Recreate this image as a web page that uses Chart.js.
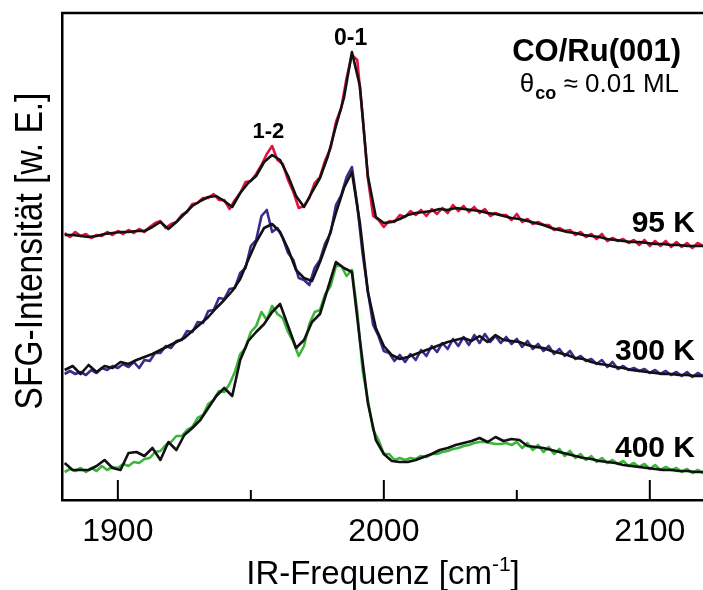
<!DOCTYPE html>
<html><head><meta charset="utf-8">
<script src="https://cdn.jsdelivr.net/npm/chart.js@4"></script>
<style>html,body{margin:0;padding:0;background:#fff;overflow:hidden}</style>
</head><body>
<canvas id="c" width="703" height="590"></canvas>
<script>
// wavenumber grids (cm^-1)
const wnData = [1880,1882,1884,1886,1888,1890,1892,1894,1896,1898,
1900,1902,1904,1906,1908,1910,1912,1914,1916,1918,
1920,1922,1924,1926,1928,1930,1932,1934,1936,1938,
1940,1942,1944,1946,1948,1950,1952,1954,1956,1958,
1960,1962,1964,1966,1968,1970,1972,1974,1976,1978,
1980,1982,1984,1986,1988,1990,1992,1994,1996,1998,
2000,2002,2004,2006,2008,2010,2012,2014,2016,2018,
2020,2022,2024,2026,2028,2030,2032,2034,2036,2038,
2040,2042,2044,2046,2048,2050,2052,2054,2056,2058,
2060,2062,2064,2066,2068,2070,2072,2074,2076,2078,
2080,2082,2084,2086,2088,2090,2092,2094,2096,2098,
2100,2102,2104,2106,2108,2110,2112,2114,2116,2118,2120];
const wnFit = [1880,1883,1886,1889,1892,1895,1898,1901,1904,1907,
1910,1913,1916,1919,1922,1925,1928,1931,1934,1937,
1940,1943,1946,1949,1952,1955,1958,1961,1964,1967,
1970,1973,1976,1979,1982,1985,1988,1991,1994,1997,
2000,2003,2006,2009,2012,2015,2018,2021,2024,2027,
2030,2033,2036,2039,2042,2045,2048,2051,2054,2057,
2060,2063,2066,2069,2072,2075,2078,2081,2084,2087,
2090,2093,2096,2099,2102,2105,2108,2111,2114,2117,2120];

// SFG intensity (arb. units, vertically offset spectra)
const data95 = [265,261,266,262,264,260,263,262,266,263,
267,264,268,265,269,266,271,275,277,270,
274,276,283,286,294,295,300,300,304,298,
298,289,298,305,316,317,324,333,344,352,
338,334,318,306,290,292,300,315,321,338,
350,376,390,420,443,438,383,320,282,278,
271,277,276,283,281,287,283,288,282,289,
284,290,285,293,287,292,286,291,285,289,
282,285,283,283,278,284,276,279,274,276,
273,273,268,270,267,268,263,266,261,264,
259,264,257,260,257,259,255,258,253,258,
252,257,252,257,251,256,251,255,250,255,252];
const fit95 = [263,263,262,261,262,264,265,266,266,267,
267,271,276,269,276,284,292,297,301,302,
297,291,305,315,322,336,343,338,322,302,
291,306,320,342,372,400,446,412,322,281,
275,276,279,283,285,286,287,289,288,290,
289,288,287,285,284,282,280,279,277,275,
273,270,268,266,265,263,262,261,259,258,
257,256,256,255,254,254,253,253,252,252,252];

const data300 = [124,127,124,126,123,128,125,130,128,132,
130,134,131,136,130,138,137,145,145,152,
150,157,158,167,166,176,175,187,188,200,
199,209,210,225,230,252,258,282,288,266,
270,260,245,238,220,218,213,230,238,255,
265,293,303,321,331,293,245,207,173,162,
147,145,137,143,136,144,138,148,142,152,
146,155,149,159,152,161,153,163,155,164,
156,162,155,161,154,159,151,157,149,154,
147,152,144,149,142,147,139,142,137,139,
134,138,131,136,129,132,128,130,127,129,
125,128,124,127,123,126,122,126,121,125,122];
const fit300 = [128,132,124,133,126,132,130,136,134,138,
141,144,148,152,156,160,167,174,181,190,
198,207,219,238,256,270,274,266,249,228,
220,217,236,258,285,310,326,275,206,170,
152,143,139,141,144,147,150,153,156,158,
160,157,162,156,163,158,157,156,153,151,
150,147,145,143,140,139,136,134,133,131,
130,128,127,126,125,124,124,123,123,122,122];

const data400 = [26,29,27,30,26,30,27,32,28,31,
30,34,32,36,35,39,40,46,47,53,
56,62,62,68,71,80,83,94,98,107,
106,114,126,144,150,166,172,186,178,192,
184,180,166,156,142,152,174,186,188,204,
212,232,232,222,228,187,128,98,68,58,
44,44,38,40,38,40,39,42,41,44,
44,46,47,49,50,52,53,55,56,56,
55,54,54,55,53,56,50,55,48,53,
46,51,44,49,42,47,40,44,38,42,
36,40,35,38,34,37,32,35,31,34,
29,33,28,31,28,30,26,29,25,28,25];
const fit400 = [35,28,28,28,32,38,30,28,45,46,
42,50,38,56,48,63,70,78,90,102,
110,102,138,157,166,174,186,194,172,150,
158,176,184,210,236,230,226,158,95,58,
44,37,36,36,38,41,44,48,50,53,
55,57,60,56,61,57,59,58,52,51,
50,48,46,44,42,40,39,37,36,35,
33,32,31,30,29,28,28,27,27,26,26];

const majorTicks = [1900, 2000, 2100];
const minorTicks = [1950, 2050];
const xRange = [1879, 2120];
const yRange = [-2, 485];

const FONT = "'Liberation Sans', Arial, sans-serif";
const RED = '#e5133c', PURPLE = '#3b2b8f', GREEN = '#3cb63a', BLACK = '#111111';

function pts(xs, ys){ return xs.map((x,i)=>({x:x, y:ys[i]})); }
function ds(xs, ys, color, order, w){
  return {data: pts(xs, ys), borderColor: color, borderWidth: w, pointRadius: 0,
          fill: false, tension: 0, order: order, borderJoinStyle: 'round'};
}

const decor = {
  id: 'decor',
  afterDatasetsDraw(chart){
    const ctx = chart.ctx, a = chart.chartArea, xs = chart.scales.x;
    ctx.save();
    ctx.strokeStyle = '#000'; ctx.lineWidth = 2.5;
    // top frame line
    ctx.beginPath(); ctx.moveTo(a.left - 1, a.top); ctx.lineTo(a.right, a.top); ctx.stroke();
    // inward ticks
    ctx.lineWidth = 2;
    majorTicks.forEach(v=>{ const px = xs.getPixelForValue(v);
      ctx.beginPath(); ctx.moveTo(px, a.bottom); ctx.lineTo(px, a.bottom - 20); ctx.stroke(); });
    minorTicks.forEach(v=>{ const px = xs.getPixelForValue(v);
      ctx.beginPath(); ctx.moveTo(px, a.bottom); ctx.lineTo(px, a.bottom - 10); ctx.stroke(); });

    ctx.fillStyle = '#000';
    // peak labels
    ctx.textAlign = 'center'; ctx.textBaseline = 'alphabetic';
    ctx.font = 'bold 23px ' + FONT;
    ctx.fillText('0-1', xs.getPixelForValue(1987.5), 45);
    ctx.font = 'bold 22px ' + FONT;
    ctx.fillText('1-2', xs.getPixelForValue(1956.6), 138);

    // title
    ctx.textAlign = 'right';
    ctx.font = 'bold 31px ' + FONT;
    ctx.fillText('CO/Ru(001)', 681, 61);

    // coverage
    ctx.textAlign = 'left';
    const f1 = '26px ' + FONT, f2 = 'bold 18px ' + FONT;
    ctx.font = f1; const w1 = ctx.measureText('θ').width;
    ctx.font = f2; const w2 = ctx.measureText('co').width;
    ctx.font = f1; const w3 = ctx.measureText(' ≈ 0.01 ML').width;
    let x0 = 679 - (w1 + w2 + 1 + w3);
    ctx.font = f1; ctx.fillText('θ', x0, 92);
    ctx.font = f2; ctx.fillText('co', x0 + w1 + 1, 99);
    ctx.font = f1; ctx.fillText(' ≈ 0.01 ML', x0 + w1 + 1 + w2, 92);

    // temperatures
    ctx.textAlign = 'right';
    ctx.font = 'bold 30px ' + FONT;
    ctx.fillText('95 K', 695, 232);
    ctx.fillText('300 K', 695, 360);
    ctx.fillText('400 K', 695, 457);

    // x axis title with superscript
    const fa = '33px ' + FONT, fs = '21px ' + FONT;
    ctx.textAlign = 'left';
    ctx.font = fa; const t1 = ctx.measureText('IR-Frequenz [cm').width;
    ctx.font = fs; const t2 = ctx.measureText('-1').width;
    ctx.font = fa; const t3 = ctx.measureText(']').width;
    let sx = 383 - (t1 + t2 + t3) / 2;
    ctx.font = fa; ctx.fillText('IR-Frequenz [cm', sx, 584);
    ctx.font = fs; ctx.fillText('-1', sx + t1, 571);
    ctx.font = fa; ctx.fillText(']', sx + t1 + t2, 584);

    // y axis title (rotated, slightly condensed)
    ctx.translate(42, 251);
    ctx.rotate(-Math.PI / 2);
    ctx.scale(0.86, 1);
    ctx.textAlign = 'center';
    ctx.font = '39px ' + FONT;
    ctx.fillText('SFG-Intensität [w. E.]', 0, 0);
    ctx.restore();
  }
};

new Chart(document.getElementById('c'), {
  type: 'line',
  data: { datasets: [
    ds(wnFit, fit95, BLACK, 1, 2.6),
    ds(wnFit, fit300, BLACK, 1, 2.6),
    ds(wnFit, fit400, BLACK, 1, 2.6),
    ds(wnData, data95, RED, 2, 2.6),
    ds(wnData, data300, PURPLE, 2, 2.6),
    ds(wnData, data400, GREEN, 2, 2.6)
  ]},
  options: {
    responsive: false, devicePixelRatio: 1, animation: false,
    layout: { padding: { top: 13, left: 0, right: 0, bottom: 0 } },
    plugins: { legend: { display: false }, tooltip: { enabled: false } },
    scales: {
      x: {
        type: 'linear', min: xRange[0], max: xRange[1],
        grid: { display: false, drawTicks: false },
        border: { display: true, color: '#000', width: 2.5 },
        afterBuildTicks: s => { s.ticks = majorTicks.map(v => ({ value: v })); },
        afterFit: s => { s.height = 90; },
        ticks: { color: '#000', font: { family: FONT, size: 32 }, padding: 13, maxRotation: 0, autoSkip: false,
                 callback: v => String(v) }
      },
      y: {
        min: yRange[0], max: yRange[1],
        grid: { display: false, drawTicks: false },
        border: { display: true, color: '#000', width: 2.5 },
        ticks: { display: false },
        afterFit: s => { s.width = 62; }
      }
    }
  },
  plugins: [decor]
});
</script>
</body></html>
